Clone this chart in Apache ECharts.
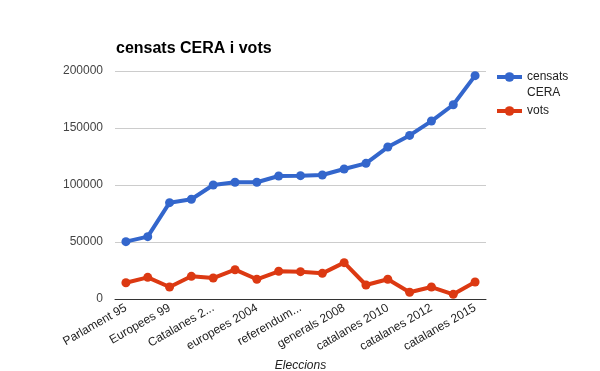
<!DOCTYPE html>
<html><head><meta charset="utf-8">
<script src="https://cdn.jsdelivr.net/npm/echarts@6/dist/echarts.min.js"></script>
<style>html,body{margin:0;padding:0;background:#fff}#c{width:600px;height:371px}</style>
</head><body><div id="c"></div>
<script>
var categories = ['Parlament 95','generals 96','Europees 99','Catalanes 99','Catalanes 2003','generals 2004','europees 2004','referendum 2005','referendum Estatut 2006','catalanes 2006','generals 2008','europees 2009','catalanes 2010','generals 2011','catalanes 2012','europees 2014','catalanes 2015'];
var tickLabels = ['Parlament 95','','Europees 99','','Catalanes 2...','','europees 2004','','referendum...','','generals 2008','','catalanes 2010','','catalanes 2012','','catalanes 2015'];
var censats = [50300,54700,84500,87500,100000,102400,102400,107900,108200,108800,114000,119000,133300,143500,156100,170400,195900];
var vots = [14300,19000,10500,19900,18400,25700,17300,24300,24000,22500,31900,12300,17300,5900,10500,4100,14900];
var yTicks = [0,50000,100000,150000,200000];

var chart = echarts.init(document.getElementById('c'));
var font = 'Arial, Liberation Sans';
chart.setOption({
  animation:false,
  title:{text:'censats CERA i vots',left:111,top:36,textStyle:{fontFamily:font,fontSize:16,fontWeight:'bold',color:'#000'}},
  legend:{orient:'vertical',left:490,top:66,itemWidth:25,itemHeight:12,itemGap:22,
    lineStyle:{width:4},
    textStyle:{fontFamily:font,fontSize:12,color:'#222'},
    formatter:function(n){return n.split(' ')[0];},
    data:['censats CERA','vots']},
  graphic:[{type:'text',left:527,top:87,style:{text:'CERA',font:'12px '+font,fill:'#222'}}],
  grid:{left:115,right:114,top:71,bottom:72,containLabel:false,outerBoundsMode:'none'},
  xAxis:{type:'category',data:categories,boundaryGap:true,
    name:'Eleccions',nameLocation:'middle',nameGap:57,
    nameTextStyle:{fontFamily:font,fontSize:12,fontStyle:'italic',color:'#222'},
    axisLine:{lineStyle:{color:'#333',width:1}},axisTick:{show:false},
    axisLabel:{interval:0,rotate:30,margin:8,fontFamily:font,fontSize:12,color:'#222',
      formatter:function(v,i){return tickLabels[i];}}},
  yAxis:{type:'value',min:yTicks[0],max:yTicks[yTicks.length-1],interval:50000,
    axisLine:{show:false},axisTick:{show:false},
    splitLine:{lineStyle:{color:'#ccc'}},
    axisLabel:{margin:12,fontFamily:font,fontSize:12,color:'#444',formatter:function(v){return String(v);}}},
  series:[
    {name:'censats CERA',type:'line',data:censats,symbol:'circle',symbolSize:9,
     lineStyle:{width:4,color:'#3366cc'},itemStyle:{color:'#3366cc'}},
    {name:'vots',type:'line',data:vots,symbol:'circle',symbolSize:9,
     lineStyle:{width:4,color:'#dc3912'},itemStyle:{color:'#dc3912'}}
  ]
});
</script></body></html>
